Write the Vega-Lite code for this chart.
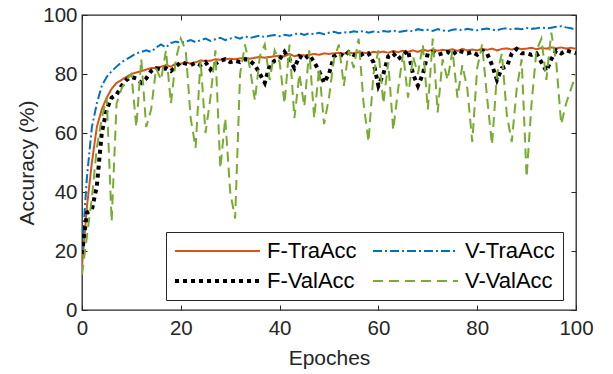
{
"$schema":"https://vega.github.io/schema/vega-lite/v6.json",
"width":494,"height":295,"autosize":"none",
"padding":{"left":82,"top":15,"right":37,"bottom":64},
"background":"white",
"config":{"font":"Liberation Sans","view":{"stroke":"#262626","strokeWidth":1.3},
 "axis":{"grid":false,"domain":false,"tickColor":"#262626","tickSize":-5,"tickWidth":1,"labelFlush":false,"labelFont":"Liberation Sans","labelFontSize":20.5,"labelColor":"#262626","titleFont":"Liberation Sans","titleFontSize":21,"titleFontWeight":"normal","titleColor":"#262626"}},
"data":{"values":[
{"e":0,"F-TraAcc":15,"V-TraAcc":20,"F-ValAcc":19,"V-ValAcc":12},
{"e":1,"F-TraAcc":35,"V-TraAcc":45,"F-ValAcc":33,"V-ValAcc":25},
{"e":2,"F-TraAcc":50,"V-TraAcc":62,"F-ValAcc":34,"V-ValAcc":38},
{"e":3,"F-TraAcc":62,"V-TraAcc":70,"F-ValAcc":42,"V-ValAcc":55},
{"e":4,"F-TraAcc":68,"V-TraAcc":76,"F-ValAcc":60,"V-ValAcc":65},
{"e":5,"F-TraAcc":72,"V-TraAcc":79,"F-ValAcc":68,"V-ValAcc":72},
{"e":6,"F-TraAcc":75,"V-TraAcc":81,"F-ValAcc":72,"V-ValAcc":30},
{"e":7,"F-TraAcc":77,"V-TraAcc":82.5,"F-ValAcc":73,"V-ValAcc":70},
{"e":8,"F-TraAcc":78,"V-TraAcc":84,"F-ValAcc":76,"V-ValAcc":75},
{"e":9,"F-TraAcc":79,"V-TraAcc":85,"F-ValAcc":78,"V-ValAcc":78},
{"e":10,"F-TraAcc":80,"V-TraAcc":86,"F-ValAcc":79,"V-ValAcc":80},
{"e":11,"F-TraAcc":80.5,"V-TraAcc":87,"F-ValAcc":78.5,"V-ValAcc":62},
{"e":12,"F-TraAcc":81,"V-TraAcc":87.5,"F-ValAcc":77,"V-ValAcc":85},
{"e":13,"F-TraAcc":81.5,"V-TraAcc":88,"F-ValAcc":78.5,"V-ValAcc":62},
{"e":14,"F-TraAcc":82,"V-TraAcc":87.5,"F-ValAcc":81,"V-ValAcc":68},
{"e":15,"F-TraAcc":82,"V-TraAcc":89,"F-ValAcc":82,"V-ValAcc":82},
{"e":16,"F-TraAcc":82.5,"V-TraAcc":90,"F-ValAcc":81.5,"V-ValAcc":78},
{"e":17,"F-TraAcc":83,"V-TraAcc":89,"F-ValAcc":82,"V-ValAcc":88},
{"e":18,"F-TraAcc":82.5,"V-TraAcc":90.5,"F-ValAcc":81,"V-ValAcc":70},
{"e":19,"F-TraAcc":83.5,"V-TraAcc":91,"F-ValAcc":82.5,"V-ValAcc":85},
{"e":20,"F-TraAcc":83.5,"V-TraAcc":90.5,"F-ValAcc":84,"V-ValAcc":92},
{"e":21,"F-TraAcc":84,"V-TraAcc":91,"F-ValAcc":83.5,"V-ValAcc":88},
{"e":22,"F-TraAcc":83.5,"V-TraAcc":91.5,"F-ValAcc":83,"V-ValAcc":65},
{"e":23,"F-TraAcc":84,"V-TraAcc":90.8,"F-ValAcc":83.8,"V-ValAcc":55},
{"e":24,"F-TraAcc":84.5,"V-TraAcc":91.5,"F-ValAcc":83,"V-ValAcc":85},
{"e":25,"F-TraAcc":84.5,"V-TraAcc":92,"F-ValAcc":84,"V-ValAcc":60},
{"e":26,"F-TraAcc":84.5,"V-TraAcc":91.2,"F-ValAcc":81.5,"V-ValAcc":72},
{"e":27,"F-TraAcc":85,"V-TraAcc":91.8,"F-ValAcc":83.5,"V-ValAcc":88},
{"e":28,"F-TraAcc":84.8,"V-TraAcc":92.3,"F-ValAcc":84.5,"V-ValAcc":48},
{"e":29,"F-TraAcc":85,"V-TraAcc":91.5,"F-ValAcc":85,"V-ValAcc":65},
{"e":30,"F-TraAcc":85.2,"V-TraAcc":92,"F-ValAcc":84,"V-ValAcc":40},
{"e":31,"F-TraAcc":85,"V-TraAcc":92.5,"F-ValAcc":84.5,"V-ValAcc":31},
{"e":32,"F-TraAcc":85.3,"V-TraAcc":92,"F-ValAcc":84,"V-ValAcc":80},
{"e":33,"F-TraAcc":85.5,"V-TraAcc":92.8,"F-ValAcc":85,"V-ValAcc":90},
{"e":34,"F-TraAcc":85.2,"V-TraAcc":92.2,"F-ValAcc":84.5,"V-ValAcc":82},
{"e":35,"F-TraAcc":85.5,"V-TraAcc":92.6,"F-ValAcc":83,"V-ValAcc":71},
{"e":36,"F-TraAcc":85.8,"V-TraAcc":93,"F-ValAcc":80,"V-ValAcc":86},
{"e":37,"F-TraAcc":85.5,"V-TraAcc":92.5,"F-ValAcc":77,"V-ValAcc":90},
{"e":38,"F-TraAcc":85.8,"V-TraAcc":93,"F-ValAcc":83,"V-ValAcc":78},
{"e":39,"F-TraAcc":86,"V-TraAcc":93.2,"F-ValAcc":84.5,"V-ValAcc":88},
{"e":40,"F-TraAcc":86.2,"V-TraAcc":92.8,"F-ValAcc":85,"V-ValAcc":84},
{"e":41,"F-TraAcc":86,"V-TraAcc":93.3,"F-ValAcc":87.5,"V-ValAcc":70},
{"e":42,"F-TraAcc":86.8,"V-TraAcc":93,"F-ValAcc":85,"V-ValAcc":90},
{"e":43,"F-TraAcc":86,"V-TraAcc":93.5,"F-ValAcc":82,"V-ValAcc":65},
{"e":44,"F-TraAcc":86.5,"V-TraAcc":93.8,"F-ValAcc":86,"V-ValAcc":80},
{"e":45,"F-TraAcc":86.3,"V-TraAcc":93.2,"F-ValAcc":85,"V-ValAcc":69},
{"e":46,"F-TraAcc":86.5,"V-TraAcc":93.8,"F-ValAcc":86.5,"V-ValAcc":88},
{"e":47,"F-TraAcc":86.8,"V-TraAcc":93.5,"F-ValAcc":84,"V-ValAcc":65},
{"e":48,"F-TraAcc":86.5,"V-TraAcc":94,"F-ValAcc":81,"V-ValAcc":82},
{"e":49,"F-TraAcc":87,"V-TraAcc":93.5,"F-ValAcc":77,"V-ValAcc":63},
{"e":50,"F-TraAcc":86.8,"V-TraAcc":94,"F-ValAcc":80,"V-ValAcc":72},
{"e":51,"F-TraAcc":87,"V-TraAcc":94.3,"F-ValAcc":86,"V-ValAcc":85},
{"e":52,"F-TraAcc":87.2,"V-TraAcc":93.8,"F-ValAcc":87,"V-ValAcc":90},
{"e":53,"F-TraAcc":86.9,"V-TraAcc":94.2,"F-ValAcc":86,"V-ValAcc":76},
{"e":54,"F-TraAcc":87.3,"V-TraAcc":94,"F-ValAcc":87.5,"V-ValAcc":88},
{"e":55,"F-TraAcc":87,"V-TraAcc":94.5,"F-ValAcc":86.5,"V-ValAcc":82},
{"e":56,"F-TraAcc":87.4,"V-TraAcc":94.2,"F-ValAcc":86,"V-ValAcc":92},
{"e":57,"F-TraAcc":87.2,"V-TraAcc":94.6,"F-ValAcc":87,"V-ValAcc":70},
{"e":58,"F-TraAcc":87,"V-TraAcc":94,"F-ValAcc":87,"V-ValAcc":57},
{"e":59,"F-TraAcc":87.5,"V-TraAcc":94.4,"F-ValAcc":84,"V-ValAcc":80},
{"e":60,"F-TraAcc":87.3,"V-TraAcc":94.2,"F-ValAcc":76,"V-ValAcc":88},
{"e":61,"F-TraAcc":87.6,"V-TraAcc":94.6,"F-ValAcc":80,"V-ValAcc":70},
{"e":62,"F-TraAcc":87.2,"V-TraAcc":94.3,"F-ValAcc":86,"V-ValAcc":84},
{"e":63,"F-TraAcc":87.8,"V-TraAcc":94.8,"F-ValAcc":87,"V-ValAcc":61},
{"e":64,"F-TraAcc":87.4,"V-TraAcc":94.2,"F-ValAcc":85,"V-ValAcc":75},
{"e":65,"F-TraAcc":87.9,"V-TraAcc":94.5,"F-ValAcc":86.5,"V-ValAcc":87},
{"e":66,"F-TraAcc":87.5,"V-TraAcc":94.8,"F-ValAcc":88,"V-ValAcc":72},
{"e":67,"F-TraAcc":88,"V-TraAcc":94.4,"F-ValAcc":80,"V-ValAcc":86},
{"e":68,"F-TraAcc":87.5,"V-TraAcc":95.2,"F-ValAcc":76,"V-ValAcc":80},
{"e":69,"F-TraAcc":88.2,"V-TraAcc":94.8,"F-ValAcc":80,"V-ValAcc":90},
{"e":70,"F-TraAcc":87.8,"V-TraAcc":95,"F-ValAcc":87,"V-ValAcc":68},
{"e":71,"F-TraAcc":88.3,"V-TraAcc":94.6,"F-ValAcc":87.5,"V-ValAcc":92},
{"e":72,"F-TraAcc":87.9,"V-TraAcc":95.2,"F-ValAcc":86.5,"V-ValAcc":67},
{"e":73,"F-TraAcc":88.2,"V-TraAcc":94.8,"F-ValAcc":87,"V-ValAcc":85},
{"e":74,"F-TraAcc":88,"V-TraAcc":94.5,"F-ValAcc":87.5,"V-ValAcc":78},
{"e":75,"F-TraAcc":88.4,"V-TraAcc":95,"F-ValAcc":86.5,"V-ValAcc":88},
{"e":76,"F-TraAcc":87.8,"V-TraAcc":95.2,"F-ValAcc":88,"V-ValAcc":72},
{"e":77,"F-TraAcc":88.5,"V-TraAcc":94.8,"F-ValAcc":87.5,"V-ValAcc":83},
{"e":78,"F-TraAcc":88,"V-TraAcc":95.3,"F-ValAcc":87,"V-ValAcc":75},
{"e":79,"F-TraAcc":88.3,"V-TraAcc":95,"F-ValAcc":87.5,"V-ValAcc":57},
{"e":80,"F-TraAcc":88,"V-TraAcc":94.8,"F-ValAcc":86.5,"V-ValAcc":82},
{"e":81,"F-TraAcc":88.5,"V-TraAcc":95.2,"F-ValAcc":88,"V-ValAcc":90},
{"e":82,"F-TraAcc":88.2,"V-TraAcc":95.4,"F-ValAcc":87,"V-ValAcc":72},
{"e":83,"F-TraAcc":88.6,"V-TraAcc":95,"F-ValAcc":83,"V-ValAcc":56},
{"e":84,"F-TraAcc":88,"V-TraAcc":94.8,"F-ValAcc":78,"V-ValAcc":80},
{"e":85,"F-TraAcc":88.5,"V-TraAcc":95.3,"F-ValAcc":82,"V-ValAcc":87},
{"e":86,"F-TraAcc":88.7,"V-TraAcc":95.5,"F-ValAcc":82.5,"V-ValAcc":66},
{"e":87,"F-TraAcc":88.3,"V-TraAcc":95.1,"F-ValAcc":87,"V-ValAcc":57},
{"e":88,"F-TraAcc":88.8,"V-TraAcc":95.4,"F-ValAcc":88.5,"V-ValAcc":75},
{"e":89,"F-TraAcc":88.4,"V-TraAcc":95.2,"F-ValAcc":87,"V-ValAcc":85},
{"e":90,"F-TraAcc":88.6,"V-TraAcc":95.6,"F-ValAcc":87,"V-ValAcc":45},
{"e":91,"F-TraAcc":88.9,"V-TraAcc":95.3,"F-ValAcc":86.5,"V-ValAcc":70},
{"e":92,"F-TraAcc":88.4,"V-TraAcc":95.5,"F-ValAcc":87,"V-ValAcc":88},
{"e":93,"F-TraAcc":88.8,"V-TraAcc":95.8,"F-ValAcc":84,"V-ValAcc":92},
{"e":94,"F-TraAcc":88.6,"V-TraAcc":95.4,"F-ValAcc":81,"V-ValAcc":78},
{"e":95,"F-TraAcc":89,"V-TraAcc":95.7,"F-ValAcc":85,"V-ValAcc":94},
{"e":96,"F-TraAcc":88.7,"V-TraAcc":96,"F-ValAcc":88,"V-ValAcc":84},
{"e":97,"F-TraAcc":89,"V-TraAcc":96.2,"F-ValAcc":87,"V-ValAcc":63},
{"e":98,"F-TraAcc":88.6,"V-TraAcc":95.8,"F-ValAcc":88,"V-ValAcc":70},
{"e":99,"F-TraAcc":88.9,"V-TraAcc":95.5,"F-ValAcc":87.5,"V-ValAcc":75},
{"e":100,"F-TraAcc":88.5,"V-TraAcc":95,"F-ValAcc":87,"V-ValAcc":80}
]},
"transform":[{"fold":["F-TraAcc","V-TraAcc","F-ValAcc","V-ValAcc"],"as":["series","acc"]}],
"layer":[
 {"mark":{"type":"line","strokeCap":"butt","clip":true},
  "encoding":{
   "x":{"field":"e","type":"quantitative","scale":{"domain":[0,100],"nice":false},"axis":{"values":[0,20,40,60,80,100],"title":"Epoches","labelPadding":13,"titlePadding":9}},
   "y":{"field":"acc","type":"quantitative","scale":{"domain":[0,100],"nice":false},"axis":{"values":[0,20,40,60,80,100],"title":"Accuracy (%)","labelPadding":10,"titlePadding":5}},
   "color":{"field":"series","type":"nominal","scale":{"domain":["F-TraAcc","V-TraAcc","F-ValAcc","V-ValAcc"],"range":["#D95319","#0072BD","#000000","#77AC30"]},
     "legend":{"orient":"none","legendX":84,"legendY":217,"columns":2,"direction":"horizontal","title":null,"strokeColor":"#262626","fillColor":"white","padding":8,"symbolType":"M-1,0H7.5","symbolSize":400,"labelFontSize":22,"labelColor":"#000000","labelFont":"Liberation Sans","columnPadding":12,"rowPadding":8,"labelOffset":71,
       "encode":{"symbols":{"update":{"strokeWidth":{"signal":"datum.value === 'F-ValAcc' ? 4 : 2"}}}}}},
   "strokeDash":{"field":"series","type":"nominal","scale":{"domain":["F-TraAcc","V-TraAcc","F-ValAcc","V-ValAcc"],"range":[[1,0],[9,3,2,3],[4,4],[10,6]]}},
   "strokeWidth":{"condition":{"test":"datum.series === 'F-ValAcc'","value":4},"value":2}
  }},
 {"mark":{"type":"line","opacity":0},
  "encoding":{
   "x":{"field":"e","type":"quantitative","axis":{"orient":"top","values":[0,20,40,60,80,100],"labels":false,"title":null}},
   "y":{"field":"acc","type":"quantitative","axis":{"orient":"right","values":[0,20,40,60,80,100],"labels":false,"title":null}}
  }}
],
"resolve":{"axis":{"x":"independent","y":"independent"}}
}
